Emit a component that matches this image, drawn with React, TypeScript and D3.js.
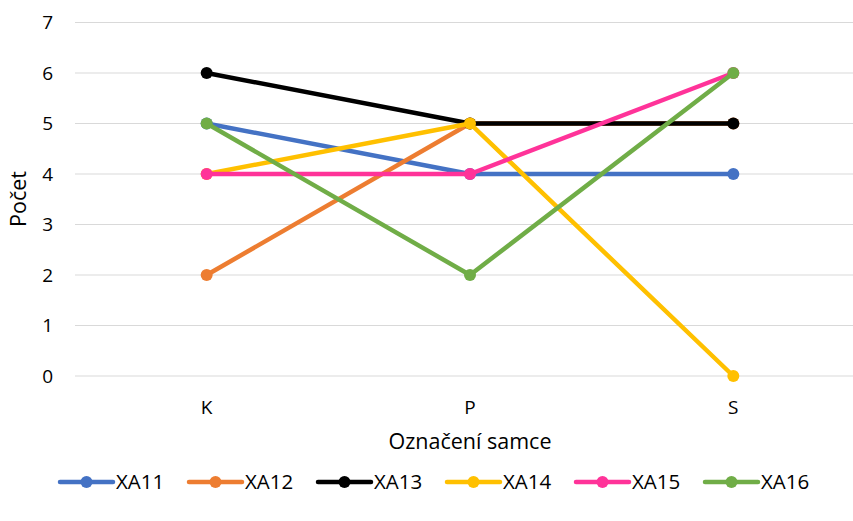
import { useEffect, useRef } from 'react'
import * as d3 from 'd3'

const categories = ['K', 'P', 'S']
const seriesNames = ['XA11', 'XA12', 'XA13', 'XA14', 'XA15', 'XA16']
const seriesColors = ['#4472C4', '#ED7D31', '#000000', '#FFC000', '#FF3399', '#70AD47']
const xa11 = [5, 4, 4]
const xa12 = [2, 5, 5]
const xa13 = [6, 5, 5]
const xa14 = [4, 5, 0]
const xa15 = [4, 4, 6]
const xa16 = [5, 2, 6]
const yTicks = [0, 1, 2, 3, 4, 5, 6, 7]

const allValues = [xa11, xa12, xa13, xa14, xa15, xa16]

export default function App() {
  const svgRef = useRef<SVGSVGElement>(null)

  useEffect(() => {
    if (!svgRef.current) return
    const width = 853
    const height = 521
    const svg = d3.select(svgRef.current)
    svg.selectAll('*').remove()

    const font = '"Open Sans", sans-serif'

    const x = d3.scalePoint<string>()
      .domain(categories)
      .range([75, 865])
      .padding(0.5)

    const y = d3.scaleLinear()
      .domain([0, 7])
      .range([376, 22.5])

    // gridlines
    svg.append('g')
      .selectAll('line')
      .data(yTicks)
      .enter().append('line')
      .attr('x1', 75)
      .attr('x2', 865)
      .attr('y1', d => y(d))
      .attr('y2', d => y(d))
      .attr('stroke', '#d9d9d9')
      .attr('stroke-width', 1)

    // y tick labels
    svg.append('g')
      .selectAll('text')
      .data(yTicks)
      .enter().append('text')
      .attr('x', 53)
      .attr('y', d => y(d))
      .attr('dy', '0.35em')
      .attr('text-anchor', 'end')
      .attr('font-family', font)
      .attr('font-size', 19)
      .attr('fill', '#000')
      .text(d => d)

    // x tick labels
    svg.append('g')
      .selectAll('text')
      .data(categories)
      .enter().append('text')
      .attr('x', d => x(d)!)
      .attr('y', 407)
      .attr('dy', '0.35em')
      .attr('text-anchor', 'middle')
      .attr('font-family', font)
      .attr('font-size', 19)
      .attr('fill', '#000')
      .text(d => d)

    // axis titles
    svg.append('text')
      .attr('x', 470)
      .attr('y', 441)
      .attr('dy', '0.35em')
      .attr('text-anchor', 'middle')
      .attr('font-family', font)
      .attr('font-size', 21.5)
      .attr('fill', '#000')
      .text('Označení samce')

    svg.append('text')
      .attr('transform', 'translate(18,199) rotate(-90)')
      .attr('dy', '0.35em')
      .attr('text-anchor', 'middle')
      .attr('font-family', font)
      .attr('font-size', 21.5)
      .attr('fill', '#000')
      .text('Počet')

    const line = d3.line<number>()
      .x((_, i) => x(categories[i])!)
      .y(d => y(d))

    allValues.forEach((vals, si) => {
      const g = svg.append('g')
      g.append('path')
        .datum(vals)
        .attr('d', line)
        .attr('fill', 'none')
        .attr('stroke', seriesColors[si])
        .attr('stroke-width', 4.5)
        .attr('stroke-linejoin', 'round')
      g.selectAll('circle')
        .data(vals)
        .enter().append('circle')
        .attr('cx', (_, i) => x(categories[i])!)
        .attr('cy', d => y(d))
        .attr('r', 6)
        .attr('fill', seriesColors[si])
    })

    // legend
    const legend = svg.append('g').attr('transform', 'translate(60,482)')
    seriesNames.forEach((name, i) => {
      const item = legend.append('g').attr('transform', `translate(${i * 129},0)`)
      item.append('line')
        .attr('x1', 0)
        .attr('x2', 53)
        .attr('y1', 0)
        .attr('y2', 0)
        .attr('stroke', seriesColors[i])
        .attr('stroke-width', 4.5)
        .attr('stroke-linecap', 'round')
      item.append('circle')
        .attr('cx', 26.5)
        .attr('cy', 0)
        .attr('r', 6)
        .attr('fill', seriesColors[i])
      item.append('text')
        .attr('x', 56)
        .attr('y', 0)
        .attr('dy', '0.35em')
        .attr('font-family', font)
        .attr('font-size', 20.5)
        .attr('fill', '#000')
        .text(name)
    })

    svg.attr('width', width).attr('height', height)
  }, [])

  return (
    <div style={{ position: 'absolute', left: 0, top: 0, width: 853, height: 521, overflow: 'hidden', background: '#fff' }}>
      <svg ref={svgRef} width={853} height={521} style={{ display: 'block' }} />
    </div>
  )
}
